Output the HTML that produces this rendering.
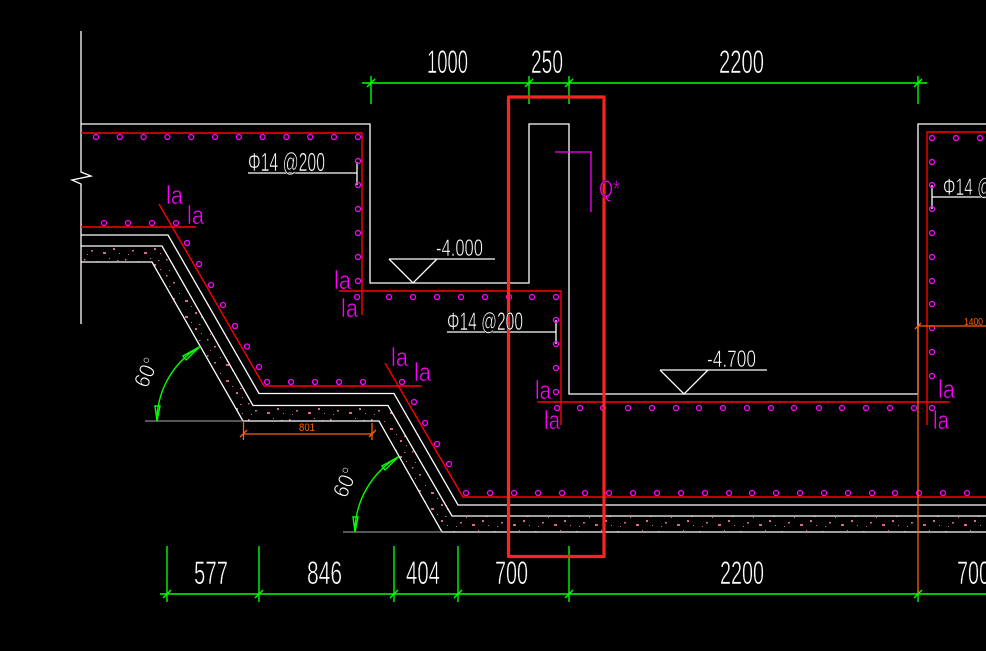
<!DOCTYPE html>
<html><head><meta charset="utf-8"><style>
html,body{margin:0;padding:0;background:#000;}
svg{display:block;}
text{font-family:"Liberation Sans",sans-serif;}
</style></head><body>
<svg width="986" height="651" viewBox="0 0 986 651" xmlns="http://www.w3.org/2000/svg">
<defs>
<pattern id="h" width="41" height="16" patternUnits="userSpaceOnUse">
<rect x="2" y="3" width="1.5" height="1.5" fill="#d9669b"/>
<rect x="9" y="10" width="2" height="1.5" fill="#d9669b"/>
<rect x="15" y="5" width="1" height="1" fill="#d9669b"/>
<rect x="21" y="12" width="3" height="2" fill="#d9669b"/>
<rect x="27" y="2" width="1" height="1" fill="#d9669b"/>
<rect x="31" y="8" width="2" height="2" fill="#d9669b"/>
<rect x="37" y="13" width="1" height="1" fill="#d9669b"/>
<rect x="5" y="14" width="1" height="1" fill="#d9669b"/>
<rect x="35" y="4" width="1.5" height="1" fill="#d9669b"/>
</pattern>
</defs>
<rect width="986" height="651" fill="#000"/>

<!-- concrete hatch band -->
<polygon points="81,246 162,246 253,405.5 388,405.5 452,516 986,516 986,532 442,532 379,421 243,421 152,262 81,262" fill="url(#h)"/>

<!-- white slab lines -->
<g fill="none" stroke="#fff" stroke-width="1.3">
<polyline points="81,235 168,235 259,393.5 394,393.5 458,505 986,505"/>
<polyline points="81,246 162,246 253,405.5 388,405.5 452,516 986,516"/>
<polyline points="81,262 152,262 243,421 379,421 442,532 986,532"/>
<polyline points="81,31 81,172 91,176 72,180 81,184 81,324"/>
<polyline points="81,124 370,124 370,283 529,283 529,124 569,124 569,394 918,394 918,124 986,124"/>
<polyline points="248,173 357,173"/>
<line x1="357" y1="162" x2="357" y2="185"/>
<polyline points="447,332 556,332"/>
<line x1="556" y1="320" x2="556" y2="344"/>
<polyline points="932,197 986,197"/>
<line x1="932" y1="185" x2="932" y2="209"/>
<polyline points="389,259 495,259"/>
<polyline points="389,259 413,283 437,259"/>
<polyline points="660,370 767,370"/>
<polyline points="660,370 684,394 708,370"/>
</g>

<line x1="145" y1="421" x2="243" y2="421" stroke="#8a8a8a" stroke-width="1.3"/>
<line x1="343" y1="532" x2="442" y2="532" stroke="#8a8a8a" stroke-width="1.3"/>

<g fill="none" stroke="#ff0000" stroke-width="1.4">
<line x1="81" y1="227" x2="196" y2="227"/>
<polyline points="159,204 264,386 422,386"/>
<polyline points="385,363 463,497 986,497"/>
<polyline points="81,133 362,133 362,315"/>
<polyline points="339,291 561,291 561,425"/>
<line x1="537" y1="402" x2="950" y2="402"/>
<polyline points="927,425 927,132 986,132"/>
</g>

<g fill="none" stroke="#ff00ff" stroke-width="1.3">
<circle cx="96" cy="137" r="2.5"/><circle cx="119.8" cy="137" r="2.5"/><circle cx="143.6" cy="137" r="2.5"/><circle cx="167.4" cy="137" r="2.5"/><circle cx="191.2" cy="137" r="2.5"/><circle cx="215" cy="137" r="2.5"/><circle cx="238.8" cy="137" r="2.5"/><circle cx="262.6" cy="137" r="2.5"/><circle cx="286.4" cy="137" r="2.5"/><circle cx="310.2" cy="137" r="2.5"/><circle cx="334" cy="137" r="2.5"/><circle cx="358" cy="137" r="2.5"/>
<circle cx="358" cy="161" r="2.5"/><circle cx="358" cy="185" r="2.5"/><circle cx="358" cy="209" r="2.5"/><circle cx="358" cy="233" r="2.5"/><circle cx="358" cy="257" r="2.5"/><circle cx="358" cy="281" r="2.5"/>
<circle cx="357" cy="297" r="2.5"/><circle cx="389" cy="297" r="2.5"/><circle cx="413" cy="297" r="2.5"/><circle cx="437" cy="297" r="2.5"/><circle cx="461" cy="297" r="2.5"/><circle cx="485" cy="297" r="2.5"/><circle cx="509" cy="297" r="2.5"/><circle cx="532" cy="297" r="2.5"/><circle cx="556" cy="297" r="2.5"/>
<circle cx="556" cy="320" r="2.5"/><circle cx="556" cy="344" r="2.5"/><circle cx="556" cy="368" r="2.5"/><circle cx="556" cy="392" r="2.5"/>
<circle cx="557" cy="408" r="2.5"/><circle cx="580" cy="408" r="2.5"/><circle cx="603" cy="408" r="2.5"/><circle cx="628" cy="408" r="2.5"/><circle cx="652" cy="408" r="2.5"/><circle cx="676" cy="408" r="2.5"/><circle cx="699" cy="408" r="2.5"/><circle cx="723" cy="408" r="2.5"/><circle cx="747" cy="408" r="2.5"/><circle cx="771" cy="408" r="2.5"/><circle cx="794" cy="408" r="2.5"/><circle cx="819" cy="408" r="2.5"/><circle cx="842" cy="408" r="2.5"/><circle cx="866" cy="408" r="2.5"/><circle cx="890" cy="408" r="2.5"/><circle cx="914" cy="408" r="2.5"/><circle cx="932" cy="408" r="2.5"/>
<circle cx="932" cy="138" r="2.5"/><circle cx="932" cy="162" r="2.5"/><circle cx="932" cy="185" r="2.5"/><circle cx="932" cy="209" r="2.5"/><circle cx="932" cy="233" r="2.5"/><circle cx="932" cy="257" r="2.5"/><circle cx="932" cy="281" r="2.5"/><circle cx="932" cy="304" r="2.5"/><circle cx="932" cy="328" r="2.5"/><circle cx="932" cy="352" r="2.5"/><circle cx="932" cy="376" r="2.5"/>
<circle cx="956" cy="138" r="2.5"/><circle cx="980" cy="138" r="2.5"/>
<circle cx="104" cy="223" r="2.5"/><circle cx="128" cy="223" r="2.5"/><circle cx="152" cy="223" r="2.5"/><circle cx="176" cy="223" r="2.5"/>
<circle cx="187" cy="243" r="2.5"/><circle cx="199" cy="264" r="2.5"/><circle cx="211" cy="285" r="2.5"/><circle cx="223" cy="305" r="2.5"/><circle cx="235" cy="326" r="2.5"/><circle cx="247" cy="346.5" r="2.5"/><circle cx="259" cy="367" r="2.5"/>
<circle cx="267" cy="382" r="2.5"/><circle cx="291" cy="382" r="2.5"/><circle cx="315" cy="382" r="2.5"/><circle cx="339" cy="382" r="2.5"/><circle cx="363" cy="382" r="2.5"/>
<circle cx="402" cy="382" r="2.5"/><circle cx="414" cy="402" r="2.5"/><circle cx="425" cy="423" r="2.5"/><circle cx="437" cy="444" r="2.5"/><circle cx="449" cy="464" r="2.5"/>
<circle cx="466" cy="493" r="2.5"/><circle cx="490" cy="493" r="2.5"/><circle cx="514" cy="493" r="2.5"/><circle cx="538" cy="493" r="2.5"/><circle cx="562" cy="493" r="2.5"/><circle cx="585" cy="493" r="2.5"/><circle cx="609" cy="493" r="2.5"/><circle cx="633" cy="493" r="2.5"/><circle cx="657" cy="493" r="2.5"/><circle cx="681" cy="493" r="2.5"/><circle cx="705" cy="493" r="2.5"/><circle cx="729" cy="493" r="2.5"/><circle cx="752" cy="493" r="2.5"/><circle cx="776" cy="493" r="2.5"/><circle cx="800" cy="493" r="2.5"/><circle cx="824" cy="493" r="2.5"/><circle cx="848" cy="493" r="2.5"/><circle cx="872" cy="493" r="2.5"/><circle cx="895" cy="493" r="2.5"/><circle cx="919" cy="493" r="2.5"/><circle cx="943" cy="493" r="2.5"/><circle cx="967" cy="493" r="2.5"/>
</g>

<polyline points="555,152 591,152 591,212" fill="none" stroke="#ff00ff" stroke-width="1.3"/>

<g fill="none" stroke="#00ff00" stroke-width="1.4">
<line x1="362" y1="83" x2="927" y2="83"/>
<line x1="371" y1="76" x2="371" y2="104"/>
<line x1="529" y1="76" x2="529" y2="104"/>
<line x1="569" y1="76" x2="569" y2="104"/>
<line x1="918" y1="76" x2="918" y2="104"/>
<line x1="367" y1="87" x2="375" y2="79"/>
<line x1="525" y1="87" x2="533" y2="79"/>
<line x1="565" y1="87" x2="573" y2="79"/>
<line x1="914" y1="87" x2="922" y2="79"/>
<line x1="160" y1="594" x2="986" y2="594"/>
<line x1="167" y1="546" x2="167" y2="602"/>
<line x1="259" y1="546" x2="259" y2="602"/>
<line x1="394" y1="546" x2="394" y2="602"/>
<line x1="458" y1="546" x2="458" y2="602"/>
<line x1="569" y1="546" x2="569" y2="602"/>
<line x1="918" y1="590" x2="918" y2="602"/>
<line x1="163" y1="598" x2="171" y2="590"/>
<line x1="255" y1="598" x2="263" y2="590"/>
<line x1="390" y1="598" x2="398" y2="590"/>
<line x1="454" y1="598" x2="462" y2="590"/>
<line x1="565" y1="598" x2="573" y2="590"/>
<line x1="914" y1="598" x2="922" y2="590"/>
<path d="M157,421 A86,86 0 0 1 200,346.5"/>
<path d="M355,532 A87,87 0 0 1 398.5,456.7"/>
<polygon points="157,421 155,406 160,406"/>
<polygon points="200,346.5 183,356 186,360"/>
<polygon points="355,532 353,517 358,517"/>
<polygon points="398.5,456.7 382,466 385,470"/>
</g>

<g fill="none" stroke="#ff6000" stroke-width="1.3">
<line x1="918" y1="326" x2="918" y2="594"/>
<line x1="918" y1="326" x2="986" y2="326"/>
<line x1="243" y1="434" x2="372" y2="434"/>
<line x1="243.5" y1="421" x2="243.5" y2="440"/>
<line x1="372" y1="423" x2="372" y2="440"/>
<line x1="240" y1="437" x2="247" y2="430"/>
<line x1="369" y1="437" x2="376" y2="430"/>
<line x1="915" y1="329" x2="921" y2="323"/>
</g>

<rect x="508.5" y="97" width="95.5" height="459.5" fill="none" stroke="#ff2222" stroke-width="3.2" stroke-linejoin="round"/>

<g fill="#fff" stroke="#000" stroke-width="0.6">
<text x="427" y="73" font-size="32" textLength="41" lengthAdjust="spacingAndGlyphs">1000</text>
<text x="531" y="73" font-size="32" textLength="32" lengthAdjust="spacingAndGlyphs">250</text>
<text x="719" y="73" font-size="32" textLength="45" lengthAdjust="spacingAndGlyphs">2200</text>
<text x="194" y="584" font-size="32" textLength="34" lengthAdjust="spacingAndGlyphs">577</text>
<text x="307" y="584" font-size="32" textLength="35" lengthAdjust="spacingAndGlyphs">846</text>
<text x="406" y="584" font-size="32" textLength="34" lengthAdjust="spacingAndGlyphs">404</text>
<text x="495" y="584" font-size="32" textLength="33" lengthAdjust="spacingAndGlyphs">700</text>
<text x="720" y="584" font-size="32" textLength="44" lengthAdjust="spacingAndGlyphs">2200</text>
<text x="957" y="584" font-size="32" textLength="33" lengthAdjust="spacingAndGlyphs">700</text>
<text x="248" y="171" font-size="26" textLength="77" lengthAdjust="spacingAndGlyphs">Φ14 @200</text>
<text x="447" y="330" font-size="25" textLength="76" lengthAdjust="spacingAndGlyphs">Φ14 @200</text>
<text x="943" y="195" font-size="24" textLength="76" lengthAdjust="spacingAndGlyphs">Φ14 @200</text>
<text x="436" y="256" font-size="24" textLength="47" lengthAdjust="spacingAndGlyphs">-4.000</text>
<text x="707" y="367" font-size="24" textLength="49" lengthAdjust="spacingAndGlyphs">-4.700</text>
<text transform="translate(147,389) rotate(-66)" font-size="22" textLength="30" lengthAdjust="spacingAndGlyphs">60°</text>
<text transform="translate(346,499) rotate(-66)" font-size="22" textLength="30" lengthAdjust="spacingAndGlyphs">60°</text>
</g>

<g fill="#ff00ff" stroke="#000" stroke-width="0.6">
<text x="166" y="204" font-size="26" textLength="17" lengthAdjust="spacingAndGlyphs">la</text>
<text x="187" y="224" font-size="26" textLength="17" lengthAdjust="spacingAndGlyphs">la</text>
<text x="334" y="289" font-size="26" textLength="17" lengthAdjust="spacingAndGlyphs">la</text>
<text x="341" y="317" font-size="26" textLength="17" lengthAdjust="spacingAndGlyphs">la</text>
<text x="391" y="366" font-size="26" textLength="17" lengthAdjust="spacingAndGlyphs">la</text>
<text x="414" y="381" font-size="26" textLength="17" lengthAdjust="spacingAndGlyphs">la</text>
<text x="535" y="399" font-size="26" textLength="16" lengthAdjust="spacingAndGlyphs">la</text>
<text x="544" y="429" font-size="26" textLength="16" lengthAdjust="spacingAndGlyphs">la</text>
<text x="938" y="398" font-size="26" textLength="17" lengthAdjust="spacingAndGlyphs">la</text>
<text x="933" y="429" font-size="26" textLength="16" lengthAdjust="spacingAndGlyphs">la</text>
<text x="599" y="197" font-size="24" textLength="21" lengthAdjust="spacingAndGlyphs">Q*</text>
</g>

<g fill="#ff6000">
<text x="299" y="431" font-size="11" textLength="16" lengthAdjust="spacingAndGlyphs">801</text>
<text x="964" y="325" font-size="10" textLength="19" lengthAdjust="spacingAndGlyphs">1400</text>
</g>
</svg>
</body></html>
